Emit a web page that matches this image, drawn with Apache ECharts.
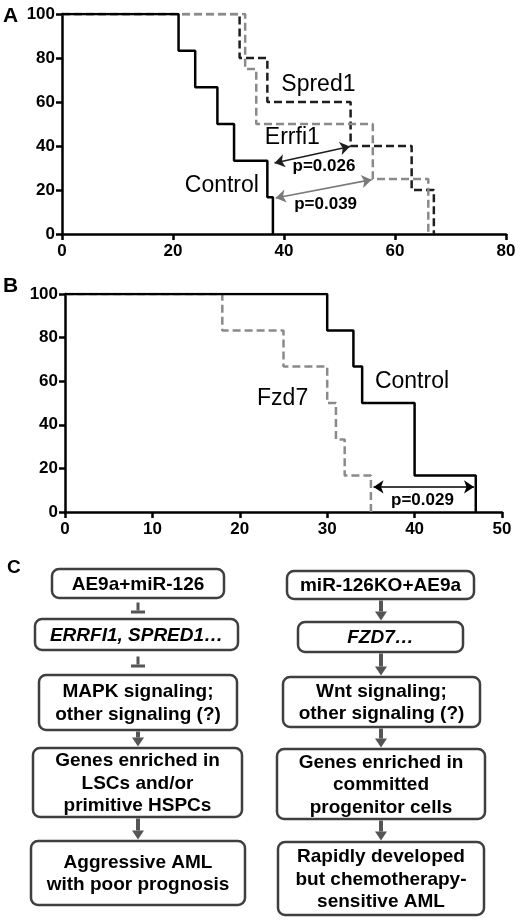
<!DOCTYPE html>
<html><head><meta charset="utf-8">
<script src="https://cdn.jsdelivr.net/npm/echarts@6/dist/echarts.min.js"></script>
<style>html,body{margin:0;padding:0;background:#fff}#c{width:520px;height:922px}</style>
</head><body><div id="c"></div>
<script>
// ---- Panel A data (days, percent survival) ----
const ctrlA_t = [0, 21, 24, 28, 31, 37, 38];
const ctrlA_s = [100, 83.3, 66.7, 50, 33.3, 16.7, 0];
const spredA_t = [0, 32, 37, 52, 63, 67];
const spredA_s = [100, 80, 60, 40, 20, 0];
const errfiA_t = [0, 33, 35, 56, 66];
const errfiA_s = [100, 75, 50, 25, 0];
const pValuesA = ['p=0.026', 'p=0.039'];
const namesA = ['Spred1', 'Errfi1', 'Control'];

// ---- Panel B data ----
const ctrlB_t = [0, 30, 33, 34, 40, 47];
const ctrlB_s = [100, 83.3, 66.7, 50, 16.7, 0];
const fzdB_t = [0, 18, 25, 30, 31, 32, 35];
const fzdB_s = [100, 83.3, 66.7, 50, 33.3, 16.7, 0];
const pValuesB = ['p=0.029'];
const namesB = ['Fzd7', 'Control'];

// ---- Axis ticks ----
const xMaxA = 80, xStepA = 20;
const xMaxB = 50, xStepB = 10;
const yMax = 100, yStep = 20;

// ---- Panel C texts ----
const leftBoxes = ['AE9a+miR-126', 'ERRFI1, SPRED1…', 'MAPK signaling;\nother signaling (?)',
  'Genes enriched in\nLSCs and/or\nprimitive HSPCs', 'Aggressive AML\nwith poor prognosis'];
const rightBoxes = ['miR-126KO+AE9a', 'FZD7…', 'Wnt signaling;\nother signaling (?)',
  'Genes enriched in\ncommitted\nprogenitor cells', 'Rapidly developed\nbut chemotherapy-\nsensitive AML'];
const leftLinks = ['inhibit', 'inhibit', 'arrow', 'arrow'];
const rightLinks = ['arrow', 'arrow', 'arrow', 'arrow'];
const panelLabels = ['A', 'B', 'C'];

const zip = (t, s) => t.map((v, i) => [v, s[i]]);
const FONT = '"Liberation Sans", Arial, sans-serif';

const axisLine = {lineStyle: {color: '#000', width: 2.5}};
const axisTick = {show: true, length: 6, lineStyle: {color: '#000', width: 2.5}};
function xAx(gi, max, step) {
  return {type: 'value', gridIndex: gi, min: 0, max: max, interval: step,
    axisLine: Object.assign({onZero: false}, axisLine), axisTick: axisTick,
    axisLabel: {color: '#000', fontWeight: 'bold', fontSize: 17, fontFamily: FONT, margin: 9},
    splitLine: {show: false}};
}
function yAx(gi) {
  return {type: 'value', gridIndex: gi, min: 0, max: yMax, interval: yStep,
    axisLine: Object.assign({show: true}, axisLine), axisTick: axisTick,
    axisLabel: {color: '#000', fontWeight: 'bold', fontSize: 17, fontFamily: FONT, margin: 7},
    splitLine: {show: false}};
}
function km(gi, t, s, color, dashed, z) {
  return {type: 'line', xAxisIndex: gi, yAxisIndex: gi, step: 'end', data: zip(t, s),
    symbol: 'none', z: z, silent: true,
    lineStyle: {color: color, width: 2.5, type: dashed ? [8, 4] : 'solid'}};
}
function txt(gi, pts, size, bold) {
  return {type: 'scatter', xAxisIndex: gi, yAxisIndex: gi, symbolSize: 1, silent: true, z: 10,
    itemStyle: {color: 'rgba(0,0,0,0)', opacity: 1},
    data: pts.map(p => ({value: [p[0], p[1]], label: {formatter: p[2]}})),
    label: {show: true, position: 'inside', color: '#000', opacity: 1, fontSize: size,
      fontWeight: bold ? 'bold' : 'normal', fontFamily: FONT}};
}
function arrows(gi, lines) {
  return {type: 'line', xAxisIndex: gi, yAxisIndex: gi, data: [], silent: true, z: 9,
    markLine: {silent: true, symbol: ['arrow', 'arrow'], symbolSize: 10, animation: false,
      label: {show: false},
      data: lines.map(l => [{coord: [l[0], l[1]], lineStyle: {color: l[4], width: 1.6, type: 'solid'}},
                           {coord: [l[2], l[3]]}])}};
}

// ---- Panel C graphics ----
const g = [];
g.push({type: 'text', left: 3, top: 6, style: {text: panelLabels[0], font: 'bold 21px ' + FONT, fill: '#000'}});
g.push({type: 'text', left: 3, top: 276, style: {text: panelLabels[1], font: 'bold 21px ' + FONT, fill: '#000'}});
g.push({type: 'text', left: 7, top: 558, style: {text: panelLabels[2], font: 'bold 19px ' + FONT, fill: '#000'}});

const leftGeom = [[52, 569, 224, 598], [35, 619, 238, 650], [39, 675, 237, 730], [33, 748, 242, 817], [31, 841, 245, 905]];
const rightGeom = [[287, 571, 474, 599], [298, 622, 463, 652], [283, 677, 480, 727], [277, 749, 485, 819], [278, 842, 484, 915]];

function column(texts, geom, links, cx) {
  texts.forEach((t, i) => {
    const b = geom[i];
    g.push({type: 'rect', shape: {x: b[0], y: b[1], width: b[2] - b[0], height: b[3] - b[1], r: 7},
      style: {fill: '#fff', stroke: '#3f3f3f', lineWidth: 2.5}});
    const italic = i === 1;
    g.push({type: 'text', x: (b[0] + b[2]) / 2, y: (b[1] + b[3]) / 2 + 1,
      style: {text: t, textAlign: 'center', textVerticalAlign: 'middle', lineHeight: 22.5,
        font: (italic ? 'italic ' : '') + 'bold 19px ' + FONT, fill: '#000'}});
  });
  links.forEach((k, i) => {
    const y0 = geom[i][3] + 1.5, y1 = geom[i + 1][1] - 1.5;
    const mid = (y0 + y1) / 2;
    if (k === 'arrow') {
      const hs = y1 - 9;
      g.push({type: 'rect', shape: {x: cx - 2, y: y0, width: 4, height: hs - y0}, style: {fill: '#555'}});
      g.push({type: 'polygon', shape: {points: [[cx - 6, hs], [cx + 6, hs], [cx, y1]]}, style: {fill: '#555'}});
    } else {
      const by = mid + 2;
      g.push({type: 'rect', shape: {x: cx - 1.5, y: mid - 6, width: 3, height: 8}, style: {fill: '#555'}});
      g.push({type: 'rect', shape: {x: cx - 7, y: by, width: 14, height: 3}, style: {fill: '#555'}});
    }
  });
}
column(leftBoxes, leftGeom, leftLinks, 138);
column(rightBoxes, rightGeom, rightLinks, 381);

const chart = echarts.init(document.getElementById('c'), null, {renderer: 'canvas'});
chart.setOption({
  animation: false,
  backgroundColor: '#fff',
  grid: [
    {left: 62, top: 14, width: 444, height: 220, containLabel: false},
    {left: 65, top: 294, width: 437, height: 218, containLabel: false}
  ],
  xAxis: [xAx(0, xMaxA, xStepA), xAx(1, xMaxB, xStepB)],
  yAxis: [yAx(0), yAx(1)],
  series: [
    km(0, spredA_t, spredA_s, '#1e1e1e', true, 3),
    km(0, errfiA_t, errfiA_s, '#8a8a8a', true, 4),
    km(0, ctrlA_t, ctrlA_s, '#000', false, 5),
    arrows(0, [[38.3, 32.3, 51.9, 39.8, '#1e1e1e'], [38.5, 16.4, 55.8, 24.7, '#7a7a7a']]),
    txt(0, [[46.2, 68, namesA[0]], [41.5, 43.6, namesA[1]], [28.8, 22, namesA[2]]], 23, false),
    txt(0, [[47.2, 30.7, pValuesA[0]], [47.5, 13.6, pValuesA[1]]], 17, true),

    km(1, fzdB_t, fzdB_s, '#8a8a8a', true, 4),
    km(1, ctrlB_t, ctrlB_s, '#000', false, 5),
    arrows(1, [[35.3, 11.5, 46.8, 11.5, '#000']]),
    txt(1, [[24.9, 52.2, namesB[0]], [39.7, 59.8, namesB[1]]], 23, false),
    txt(1, [[40.9, 5.4, pValuesB[0]]], 17, true)
  ],
  graphic: g
});
</script>
</body></html>
